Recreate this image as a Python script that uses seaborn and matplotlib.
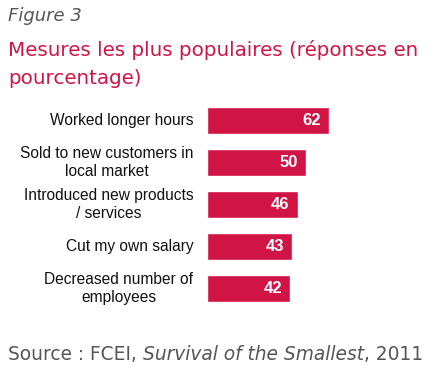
import pandas as pd
import matplotlib
matplotlib.use("Agg")
import matplotlib.pyplot as plt
import seaborn as sns

# Données
categories = ["Worked longer hours",
              "Sold to new customers in\nlocal market",
              "Introduced new products\n/ services",
              "Cut my own salary",
              "Decreased number of\nemployees"]
values = [62, 50, 46, 43, 42]

bar_color = "#D01446"
title_color = "#D01446"
gray = "#555555"

df = pd.DataFrame({"mesure": categories, "pct": values})

sns.set_theme(style="white")
plt.rcParams["font.family"] = ["Liberation Sans", "DejaVu Sans"]

fig = plt.figure(figsize=(4.42, 3.73), dpi=100)
W, H = 442, 373
# axes: x de 207 px a 404 px (0..100), y de 99 a 310 px
ax = fig.add_axes([207 / W, 1 - 310 / H, 197 / W, 211 / H])

sns.barplot(data=df, x="pct", y="mesure", color=bar_color, width=0.64,
            saturation=1, ax=ax, orient="h")
ax.set_xlim(0, 100)
ax.set_ylim(4.5, -0.5)
ax.set_xlabel("")
ax.set_ylabel("")
ax.set_xticks([])
ax.set_yticks([])
sns.despine(ax=ax, left=True, bottom=True)

for i, (lab, v) in enumerate(zip(categories, values)):
    ax.text(v - 4, i, str(v), color="white", fontweight="bold", fontsize=12,
            ha="right", va="center")
    ax.text(-7, i, lab, color="#111111", fontsize=11.2, ha="right", va="center",
            multialignment="center", linespacing=1.25)

ttl = ["DejaVu Sans"]
fig.text(8 / W, 1 - 16 / H, "Figure 3", color=gray, fontsize=13, style="italic",
         family=ttl, ha="left", va="center")
fig.text(8 / W, 1 - 50 / H, "Mesures les plus populaires (réponses en",
         color=title_color, fontsize=14.3, family=ttl, ha="left", va="center")
fig.text(8 / W, 1 - 78 / H, "pourcentage)",
         color=title_color, fontsize=14.3, family=ttl, ha="left", va="center")

src = fig.text(8 / W, 1 - 355 / H, "Source : FCEI, ", color=gray, fontsize=13.4,
               family=ttl, ha="left", va="center")
fig.canvas.draw()
r = fig.canvas.get_renderer()
bb = src.get_window_extent(r)
src2 = fig.text(bb.x1 / W, 1 - 355 / H, "Survival of the Smallest", color=gray,
                fontsize=13.4, style="italic", family=ttl, ha="left", va="center")
bb2 = src2.get_window_extent(r)
fig.text(bb2.x1 / W, 1 - 355 / H, ", 2011", color=gray, fontsize=13.4,
         family=ttl, ha="left", va="center")

fig.savefig("out.png", dpi=100)
